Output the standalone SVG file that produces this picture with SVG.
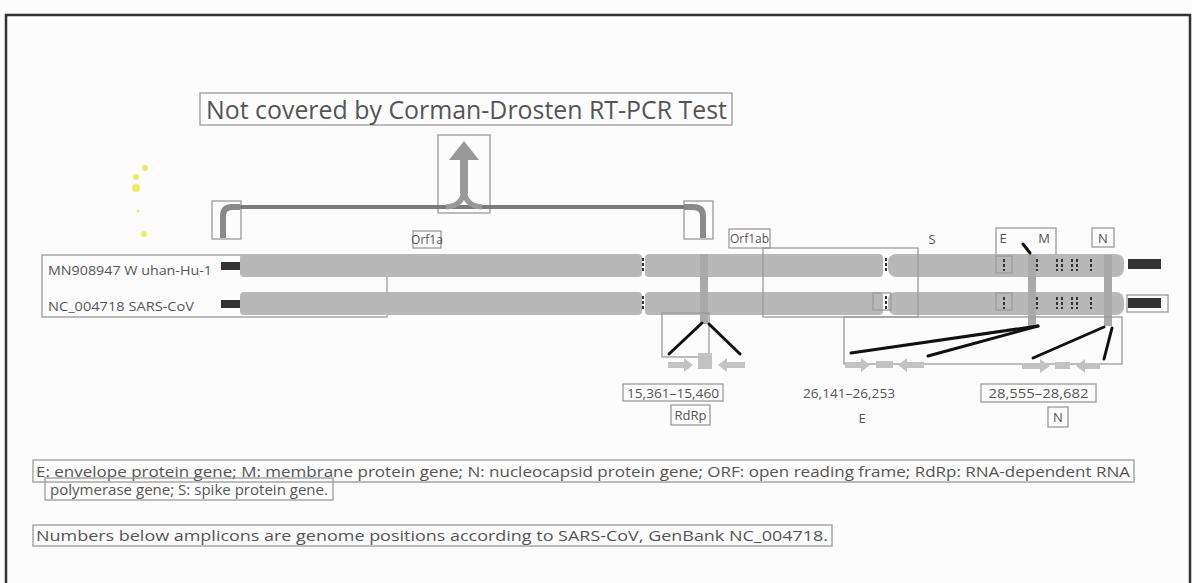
<svg xmlns="http://www.w3.org/2000/svg" width="1192" height="583" viewBox="0 0 1192 583">
<style>
text{font-family:"Open Sans","Liberation Sans",sans-serif;fill:#555}
.box{fill:none;stroke:#9a9a9a;stroke-width:1.3}
.bar{fill:#b8b8b8}
.lbl{font-size:13px}
.small{font-size:12px}
.leg{font-size:15px}
.blk{stroke:#111;stroke-width:3;stroke-linecap:round}
.vcon{stroke:#a9a9a9;stroke-width:8}
.tick{stroke:#333;stroke-width:2;stroke-dasharray:3 2}
.pr{fill:#c2c2c2}
</style>
<rect x="0" y="0" width="1192" height="583" fill="#fcfcfc"/>
<path d="M6 583 V15 H1190 V583" fill="none" stroke="#333" stroke-width="2.5"/>
<g id="noise" fill="#e8e840" opacity="0.8">
<circle cx="145" cy="168" r="3"/><circle cx="136" cy="177" r="3"/><circle cx="136" cy="188" r="4"/><circle cx="144" cy="234" r="3"/><circle cx="138" cy="211" r="1.5"/>
</g>
<g id="title">
<rect class="box" x="200" y="93" width="532" height="32"/>
<text x="206" y="119" font-size="26" textLength="521" lengthAdjust="spacingAndGlyphs">Not covered by Corman-Drosten RT-PCR Test</text>
</g>
<g id="bracket">
<rect class="box" x="438" y="135" width="52" height="78"/>
<rect class="box" x="212" y="201" width="29" height="38"/>
<rect class="box" x="684" y="201" width="29" height="38"/>
<path d="M240 207 H684" stroke="#7b7b7b" stroke-width="4" fill="none"/>
<path d="M240 207 H232 Q223 207 223 216 V238" stroke="#8a8a8a" stroke-width="6" fill="none"/>
<path d="M684 207 H693 Q703 207 703 216 V238" stroke="#8a8a8a" stroke-width="6" fill="none"/>
<rect x="460" y="158" width="8" height="36" fill="#999"/>
<polygon points="449,160 464,141 479,160" fill="#999"/>
<path d="M464 190 Q463 206 446 207 M464 190 Q465 206 482 207" stroke="#999" stroke-width="5" fill="none"/>
</g>
<g id="labels-top">
<rect class="box" x="413" y="231" width="28" height="17"/>
<text class="small" x="427" y="244" text-anchor="middle">Orf1a</text>
<rect class="box" x="729" y="229" width="41" height="19"/>
<text class="small" x="749.5" y="243" text-anchor="middle">Orf1ab</text>
<text class="lbl" x="932" y="244" text-anchor="middle">S</text>
<rect class="box" x="996" y="228" width="60" height="32"/>
<text class="lbl" x="1003" y="243" text-anchor="middle">E</text>
<text class="lbl" x="1044" y="243" text-anchor="middle">M</text>
<rect class="box" x="1092" y="228" width="22" height="19"/>
<text class="lbl" x="1103" y="243" text-anchor="middle">N</text>
</g>
<g id="genome-labels">
<rect class="box" x="42" y="255" width="345" height="62"/>
<text class="lbl" x="48" y="275" textLength="164" lengthAdjust="spacingAndGlyphs">MN908947 W uhan-Hu-1</text>
<text class="lbl" x="48" y="311" textLength="146" lengthAdjust="spacingAndGlyphs">NC_004718 SARS-CoV</text>
</g>
<g id="genome-bars">
<rect x="221" y="262" width="20" height="8" fill="#333"/>
<rect x="221" y="300" width="20" height="8" fill="#333"/>
<rect class="bar" x="240" y="254" width="402" height="23" rx="4"/>
<rect class="bar" x="645" y="254" width="238" height="23" rx="4"/>
<rect class="bar" x="888" y="254" width="236" height="23" rx="8"/>
<rect class="bar" x="240" y="292" width="402" height="23" rx="4"/>
<rect class="bar" x="645" y="292" width="238" height="23" rx="4"/>
<rect class="bar" x="888" y="292" width="236" height="23" rx="8"/>
<rect x="1128" y="259" width="33" height="10" fill="#333"/>
<rect x="1128" y="298" width="33" height="10" fill="#333"/>
<rect class="box" x="1127" y="295" width="41" height="17"/>
<rect class="box" x="763" y="248" width="155" height="69"/>
<rect class="box" x="873" y="293" width="18" height="17"/>
<rect class="box" x="996" y="293" width="16" height="17"/>
<rect class="box" x="996" y="256" width="16" height="17"/>
<path class="tick" d="M643 258 V272 M643 296 V310 M886 258 V272 M886 296 V310 M1004 259 V271 M1004 297 V309 M1037 259 V271 M1037 297 V309 M1057 259 V271 M1062 259 V271 M1072 259 V271 M1077 259 V271 M1091 259 V271 M1057 297 V309 M1062 297 V309 M1072 297 V309 M1077 297 V309 M1091 297 V309"/>
</g>
<g id="connectors">
<line class="vcon" x1="704" y1="254" x2="704" y2="324"/>
<line class="vcon" x1="1032" y1="255" x2="1032" y2="326"/>
<line class="vcon" x1="1108" y1="255" x2="1108" y2="326"/>
<rect class="box" x="662" y="313" width="47" height="44"/>
<rect class="box" x="844" y="317" width="278" height="47"/>
<line class="blk" x1="702" y1="323" x2="669" y2="354"/>
<line class="blk" x1="709" y1="324" x2="740" y2="354"/>
<line class="blk" x1="1038" y1="326" x2="851" y2="353"/>
<line class="blk" x1="1038" y1="326" x2="928" y2="356"/>
<line class="blk" x1="1104" y1="327" x2="1033" y2="358"/>
<line class="blk" x1="1112" y1="328" x2="1104" y2="359"/>
<line class="blk" x1="1023" y1="244" x2="1030" y2="253" stroke-width="2.5"/>
</g>
<g id="primers">
<path class="pr" d="M668 362 H684 V358 L693 365 L684 372 V368 H668 Z"/>
<rect class="pr" x="698" y="353" width="14" height="16"/>
<path class="pr" d="M745 362 H727 V358 L718 365 L727 372 V368 H745 Z"/>
<path class="pr" d="M845 362 H861 V358 L870 365 L861 372 V368 H845 Z"/>
<rect class="pr" x="876" y="361" width="17" height="7"/>
<path class="pr" d="M924 362 H907 V358 L898 365 L907 372 V368 H924 Z"/>
<path class="pr" d="M1022 363 H1040 V359 L1050 366 L1040 373 V369 H1022 Z"/>
<rect class="pr" x="1055" y="362" width="15" height="7"/>
<path class="pr" d="M1100 363 H1085 V359 L1076 366 L1085 373 V369 H1100 Z"/>
</g>
<g id="amplicon-labels">
<rect class="box" x="623" y="384" width="100" height="17"/>
<text class="lbl" x="673" y="398" text-anchor="middle" textLength="92" lengthAdjust="spacingAndGlyphs">15,361–15,460</text>
<rect class="box" x="671" y="405" width="39" height="20"/>
<text class="lbl" x="690.5" y="420" text-anchor="middle">RdRp</text>
<text class="lbl" x="849" y="398" text-anchor="middle" textLength="92" lengthAdjust="spacingAndGlyphs">26,141–26,253</text>
<text class="lbl" x="862" y="423" text-anchor="middle">E</text>
<rect class="box" x="981" y="384" width="115" height="18"/>
<text class="lbl" x="1038.5" y="398" text-anchor="middle" textLength="100" lengthAdjust="spacingAndGlyphs">28,555–28,682</text>
<rect class="box" x="1048" y="407" width="20" height="20"/>
<text class="lbl" x="1058" y="422" text-anchor="middle">N</text>
</g>
<g id="legend">
<rect class="box" x="33" y="460" width="1101" height="22"/>
<text class="leg" x="36" y="477" textLength="1094" lengthAdjust="spacingAndGlyphs">E: envelope protein gene; M: membrane protein gene; N: nucleocapsid protein gene; ORF: open reading frame; RdRp: RNA-dependent RNA</text>
<rect class="box" x="45" y="478" width="288" height="22"/>
<text class="leg" x="50" y="495" textLength="278" lengthAdjust="spacingAndGlyphs">polymerase gene; S: spike protein gene.</text>
<rect class="box" x="33" y="525" width="799" height="21"/>
<text class="leg" x="36" y="541" textLength="792" lengthAdjust="spacingAndGlyphs">Numbers below amplicons are genome positions according to SARS-CoV, GenBank NC_004718.</text>
</g>
</svg>
